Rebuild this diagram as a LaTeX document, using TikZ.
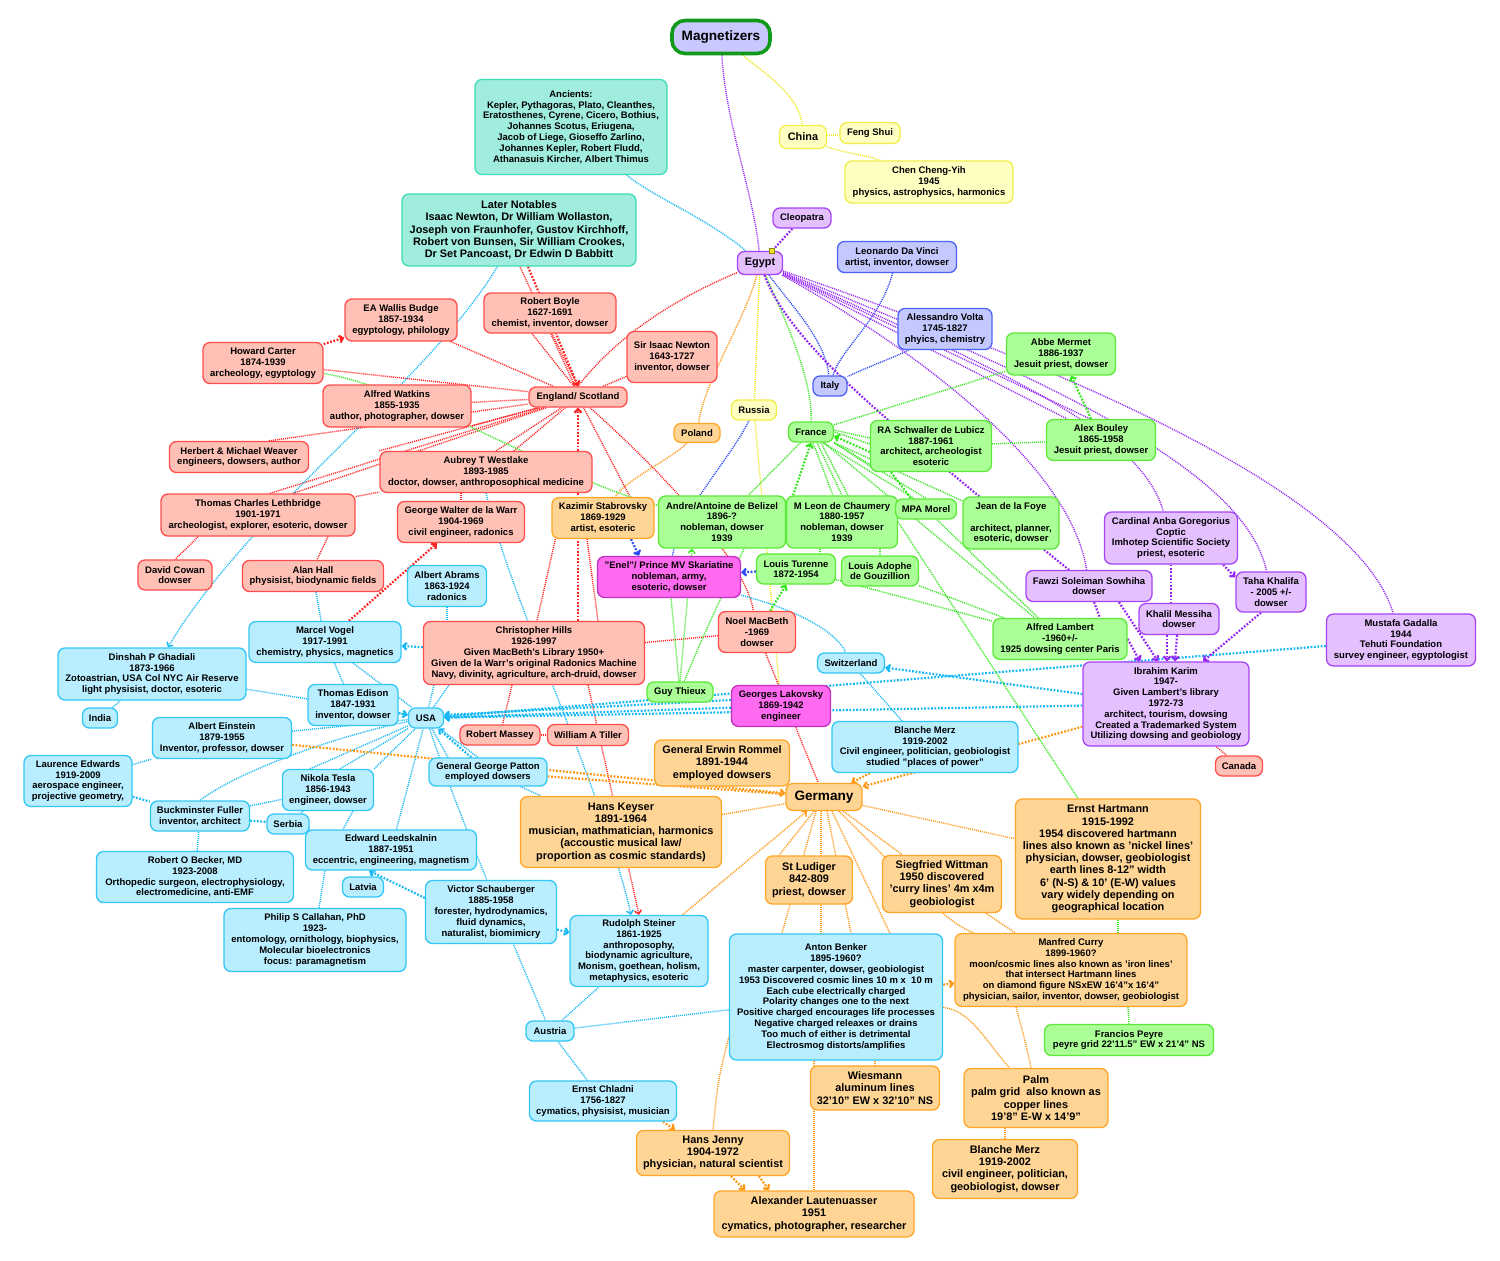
\documentclass[tikz,border=0pt]{standalone}
\usepackage{fontspec}
\setmainfont{Liberation Sans}
\usetikzlibrary{arrows.meta}
\pgfdeclarelayer{back}\pgfdeclarelayer{bg}
\pgfsetlayers{back,bg,main}
\definecolor{fR}{HTML}{FFC1B6}\definecolor{dR}{HTML}{FF4D4D}
\definecolor{fC}{HTML}{B8EEFF}\definecolor{dC}{HTML}{33C7F5}
\definecolor{fG}{HTML}{AAFF96}\definecolor{dG}{HTML}{5EE83A}
\definecolor{fO}{HTML}{FFD596}\definecolor{dO}{HTML}{FFA628}
\definecolor{fP}{HTML}{E5C0FF}\definecolor{dP}{HTML}{A645F5}
\definecolor{fM}{HTML}{FF6AF0}\definecolor{dM}{HTML}{C032C0}
\definecolor{fY}{HTML}{FFFFC2}\definecolor{dY}{HTML}{F2EE48}
\definecolor{fT}{HTML}{A0EDDF}\definecolor{dT}{HTML}{3DDDB5}
\definecolor{fB}{HTML}{C3C8FF}\definecolor{dB}{HTML}{4E63F5}
\definecolor{fMag}{HTML}{C9C8FF}\definecolor{dMag}{HTML}{119A19}
\definecolor{lR}{HTML}{FF2020}\definecolor{lC}{HTML}{14B8F5}
\definecolor{lG}{HTML}{33E81C}\definecolor{lO}{HTML}{FF9610}
\definecolor{lP}{HTML}{9426F5}\definecolor{lY}{HTML}{EDE81A}
\definecolor{lB}{HTML}{2A48F5}\definecolor{mkY}{HTML}{F2E22A}
\newcommand\szS{\fontsize{9.5}{10.8}\selectfont\bfseries}
\newcommand\szM{\fontsize{10.9}{12.2}\selectfont\bfseries}
\newcommand\szL{\fontsize{13.6}{15}\selectfont\bfseries}
\tikzset{
 bx/.style={rounded corners=7pt, line width=1.3pt, align=center, inner sep=1.5pt, font=\szS},
 sz/.style 2 args={minimum width=#1pt, minimum height=#2pt},
 tR/.style={bx, draw=dR, fill=fR},
 tC/.style={bx, draw=dC, fill=fC},
 tG/.style={bx, draw=dG, fill=fG},
 tO/.style={bx, draw=dO, fill=fO},
 tP/.style={bx, draw=dP, fill=fP},
 tM/.style={bx, draw=dM, fill=fM},
 tY/.style={bx, draw=dY, fill=fY},
 tT/.style={bx, draw=dT, fill=fT},
 tB/.style={bx, draw=dB, fill=fB},
 magS/.style={bx, draw=dMag, fill=fMag, line width=3.6pt, rounded corners=13pt, font=\szL},
 ln/.style={line width=1.4pt, dash pattern=on 1pt off 1pt},
 md/.style={line width=2.2pt, dash pattern=on 1.8pt off 1.6pt},
 ar/.style={-{Straight Barb[length=3.5pt,width=7pt]}},
}
\begin{document}
\begin{tikzpicture}[x=1pt,y=-1pt]
\begin{pgfonlayer}{back}
\fill[white] (0,0) rectangle (1500,1261);
\end{pgfonlayer}
\useasboundingbox (0,0) rectangle (1500,1261);
% ---------------- nodes
\node[magS,sz={98}{33}] (mag) at (721,37) {Magnetizers};
\node[tT,sz={192}{95}] (anc) at (571,127) {Ancients:\\Kepler, Pythagoras, Plato, Cleanthes,\\Eratosthenes, Cyrene, Cicero, Bothius,\\Johannes Scotus, Eriugena,\\Jacob of Liege, Gioseffo Zarlino,\\Johannes Kepler, Robert Fludd,\\Athanasuis Kircher, Albert Thimus};
\node[tT,sz={234}{72},font=\szM] (later) at (519,230) {Later Notables\\Isaac Newton, Dr William Wollaston,\\Joseph von Fraunhofer, Gustov Kirchhoff,\\Robert von Bunsen, Sir William Crookes,\\Dr Set Pancoast, Dr Edwin D Babbitt};
\node[tY,sz={47}{23},font=\szM] (china) at (803,137) {China};
\node[tY,sz={60}{21}] (feng) at (870,133) {Feng Shui};
\node[tY,sz={168}{42}] (chen) at (929,182) {Chen Cheng-Yih\\1945\\physics, astrophysics, harmonics};
\node[tP,sz={58}{20}] (cleo) at (802,218) {Cleopatra};
\node[tP,sz={45}{23},font=\szM] (egypt) at (760,263) {Egypt};
\node[fill=mkY, draw=olive, line width=0.6pt, minimum size=5pt, inner sep=0pt] (egmark) at ([xshift=-11pt]egypt.north east) {};
\node[tB,sz={119}{31}] (leo) at (897,257) {Leonardo Da Vinci\\artist, inventor, dowser};
\node[tB,sz={94}{41}] (volta) at (945,329) {Alessandro Volta\\1745-1827\\phyics, chemistry};
\node[tB,sz={34}{20}] (italy) at (830,386) {Italy};
\node[tG,sz={109}{42}] (mermet) at (1061,354) {Abbe Mermet\\1886-1937\\Jesuit priest, dowser};
\node[tR,sz={132}{40}] (boyle) at (550,313) {Robert Boyle\\1627-1691\\chemist, inventor, dowser};
\node[tR,sz={90}{51}] (newton) at (672,357) {Sir Isaac Newton\\1643-1727\\inventor, dowser};
\node[tR,sz={112}{42}] (budge) at (401,320) {EA Wallis Budge\\1857-1934\\egyptology, philology};
\node[tR,sz={120}{41}] (carter) at (263,363) {Howard Carter\\1874-1939\\archeology, egyptology};
\node[tR,sz={98}{20}] (engl) at (578,397) {England/ Scotland};
\node[tR,sz={148}{42}] (watkins) at (397,406) {Alfred Watkins\\1855-1935\\author, photographer, dowser};
\node[tR,sz={139}{31}] (weaver) at (239,457) {Herbert \& Michael Weaver\\engineers, dowsers, author};
\node[tR,sz={212}{41}] (westlake) at (486,472) {Aubrey T Westlake\\1893-1985\\doctor, dowser, anthroposophical medicine};
\node[tR,sz={194}{42}] (leth) at (258,515) {Thomas Charles Lethbridge\\1901-1971\\archeologist, explorer, esoteric, dowser};
\node[tR,sz={127}{41}] (delawarr) at (461,522) {George Walter de la Warr\\1904-1969\\civil engineer, radonics};
\node[tO,sz={102}{41}] (kaz) at (603,518) {Kazimir Stabrovsky\\1869-1929\\artist, esoteric};
\node[tO,sz={46}{19}] (poland) at (697,433) {Poland};
\node[tY,sz={45}{20}] (russia) at (754,410) {Russia};
\node[tG,sz={45}{20}] (france) at (811,432) {France};
\node[tG,sz={121}{51}] (schwaller) at (931,446) {RA Schwaller de Lubicz\\1887-1961\\architect, archeologist\\esoteric};
\node[tG,sz={109}{41}] (bouley) at (1101,440) {Alex Bouley\\1865-1958\\Jesuit priest, dowser};
\node[tG,sz={127}{52}] (andre) at (722,522) {Andre/Antoine de Belizel\\1896-?\\nobleman, dowser\\1939};
\node[tG,sz={111}{52}] (chaumery) at (842,522) {M Leon de Chaumery\\1880-1957\\nobleman, dowser\\1939};
\node[tG,sz={61}{20}] (morel) at (926,509) {MPA Morel};
\node[tG,sz={96}{52}] (foye) at (1011,523) {Jean de la Foye\\\mbox{}\\architect, planner,\\esoteric, dowser};
\node[tP,sz={133}{52}] (cardinal) at (1171,538) {Cardinal Anba Goregorius\\Coptic\\Imhotep Scientific Society\\priest, esoteric};
\node[tM,sz={143}{41}] (enel) at (669,577) {"Enel"/ Prince MV Skariatine\\nobleman, army,\\esoteric, dowser};
\node[tG,sz={79}{30}] (turenne) at (796,569) {Louis Turenne\\1872-1954};
\node[tG,sz={77}{30}] (adophe) at (880,571) {Louis Adophe\\de Gouzillion};
\node[tP,sz={126}{31}] (fawzi) at (1089,586) {Fawzi Soleiman Sowhiha\\dowser};
\node[tP,sz={80}{31}] (khalil) at (1179,619) {Khalil Messiha\\dowser};
\node[tP,sz={70}{40}] (taha) at (1271,592) {Taha Khalifa\\- 2005 +/-\\dowser};
\node[tP,sz={149}{52}] (mustafa) at (1401,640) {Mustafa Gadalla\\1944\\Tehuti Foundation\\survey engineer, egyptologist};
\node[tR,sz={74}{30}] (davidcowan) at (175,575) {David Cowan\\dowser};
\node[tR,sz={141}{31}] (alanhall) at (313,576) {Alan Hall\\physisist, biodynamic fields};
\node[tC,sz={79}{41}] (abrams) at (447,586) {Albert Abrams\\1863-1924\\radonics};
\node[tC,sz={152}{41}] (vogel) at (325,642) {Marcel Vogel\\1917-1991\\chemistry, physics, magnetics};
\node[tR,sz={221}{63}] (hills) at (534,653) {Christopher Hills\\1926-1997\\Given MacBeth's Library 1950+\\Given de la Warr's original Radonics Machine\\Navy, divinity, agriculture, arch-druid, dowser};
\node[tR,sz={77}{41}] (noel) at (757,632) {Noel MacBeth\\-1969\\dowser};
\node[tG,sz={134}{41}] (lambert) at (1060,639) {Alfred Lambert\\-1960+/-\\1925 dowsing center Paris};
\node[tC,sz={67}{20}] (switz) at (851,663) {Switzerland};
\node[tG,sz={66}{20}] (guy) at (680,692) {Guy Thieux};
\node[tM,sz={99}{41}] (lakovsky) at (781,706) {Georges Lakovsky\\1869-1942\\engineer};
\node[tP,sz={166}{84}] (ibrahim) at (1166,704) {Ibrahim Karim\\1947-\\Given Lambert's library\\1972-73\\architect, tourism, dowsing\\Created a Trademarked System\\Utilizing dowsing and geobiology};
\node[tR,sz={47}{20}] (canada) at (1239,766) {Canada};
\node[tC,sz={188}{52}] (dinshah) at (152,674) {Dinshah P Ghadiali\\1873-1966\\Zotoastrian, USA Col NYC Air Reserve\\light physisist, doctor, esoteric};
\node[tC,sz={35}{20}] (india) at (100,718) {India};
\node[tC,sz={90}{41}] (edison) at (353,705) {Thomas Edison\\1847-1931\\inventor, dowser};
\node[tC,sz={35}{20}] (usa) at (426,718) {USA};
\node[tC,sz={139}{41}] (einstein) at (222,738) {Albert Einstein\\1879-1955\\Inventor, professor, dowser};
\node[tR,sz={80}{20}] (massey) at (500,735) {Robert Massey};
\node[tR,sz={81}{21}] (tiller) at (588,735) {William A Tiller};
\node[tO,sz={135}{46},font=\szM] (rommel) at (722,763) {General Erwin Rommel\\1891-1944\\employed dowsers};
\node[tC,sz={186}{51}] (bmerzc) at (925,747) {Blanche Merz\\1919-2002\\Civil engineer, politician, geobiologist\\studied "places of power"};
\node[tC,sz={118}{28}] (patton) at (488,772) {General George Patton\\employed dowsers};
\node[tC,sz={108}{51}] (ledwards) at (78,781) {Laurence Edwards\\1919-2009\\aerospace engineer,\\projective geometry,};
\node[tC,sz={91}{41}] (tesla) at (328,790) {Nikola Tesla\\1856-1943\\engineer, dowser};
\node[tO,sz={76}{27},font=\szL] (germany) at (824,797) {Germany};
\node[tC,sz={99}{30}] (fuller) at (200,816) {Buckminster Fuller\\inventor, architect};
\node[tC,sz={42}{20}] (serbia) at (288,824) {Serbia};
\node[tO,sz={201}{71},font=\szM] (keyser) at (621,832) {Hans Keyser\\1891-1964\\musician, mathmatician, harmonics\\(accoustic musical law/\\proportion as cosmic standards)};
\node[tC,sz={171}{40}] (leeds) at (391,850) {Edward Leedskalnin\\1887-1951\\eccentric, engineering, magnetism};
\node[tC,sz={197}{51}] (becker) at (195,877) {Robert O Becker, MD\\1923-2008\\Orthopedic surgeon, electrophysiology,\\electromedicine, anti-EMF};
\node[tC,sz={41}{20}] (latvia) at (363,887) {Latvia};
\node[tO,sz={87}{48},font=\szM] (ludiger) at (809,880) {St Ludiger\\842-809\\priest, dowser};
\node[tO,sz={119}{57},font=\szM] (wittman) at (942,884) {Siegfried Wittman\\1950 discovered\\'curry lines' 4m x4m\\geobiologist};
\node[tO,sz={185}{120},font=\szM] (hartmann) at (1108,859) {Ernst Hartmann\\1915-1992\\1954 discovered hartmann\\lines also known as 'nickel lines'\\physician, dowser, geobiologist\\earth lines 8-12" width\\6' (N-S) \& 10' (E-W) values\\vary widely depending on\\geographical location};
\node[tC,sz={131}{63}] (victor) at (491,912) {Victor Schauberger\\1885-1958\\forester, hydrodynamics,\\fluid dynamics,\\naturalist, biomimicry};
\node[tC,sz={182}{63}] (callahan) at (315,940) {Philip S Callahan, PhD\\1923-\\entomology, ornithology, biophysics,\\Molecular bioelectronics\\focus: paramagnetism};
\node[tC,sz={138}{71}] (steiner) at (639,951) {Rudolph Steiner\\1861-1925\\anthroposophy,\\biodynamic agriculture,\\Monism, goethean, holism,\\metaphysics, esoteric};
\node[tC,sz={213}{126}] (benker) at (836,997) {Anton Benker\\1895-1960?\\master carpenter, dowser, geobiologist\\1953 Discovered cosmic lines 10 m x\ \ 10 m\\Each cube electrically charged\\Polarity changes one to the next\\Positive charged encourages life processes\\Negative charged releaxes or drains\\Too much of either is detrimental\\Electrosmog distorts/amplifies};
\node[tO,sz={232}{73}] (curry) at (1071,970) {Manfred Curry\\1899-1960?\\moon/cosmic lines also known as 'iron lines'\\that intersect Hartmann lines\\on diamond figure NSxEW 16'4"x 16'4"\\physician, sailor, inventor, dowser, geobiologist};
\node[tG,sz={169}{31}] (peyre) at (1129,1040) {Francios Peyre\\peyre grid 22'11.5" EW x 21'4" NS};
\node[tC,sz={48}{20}] (austria) at (550,1031) {Austria};
\node[tC,sz={147}{40}] (chladni) at (603,1101) {Ernst Chladni\\1756-1827\\cymatics, physisist, musician};
\node[tO,sz={129}{44},font=\szM] (wiesmann) at (875,1088) {Wiesmann\\aluminum lines\\32'10" EW x 32'10" NS};
\node[tO,sz={144}{59},font=\szM] (palm) at (1036,1098) {Palm\\palm grid\ \ also known as\\copper lines\\19'8" E-W x 14'9"};
\node[tO,sz={153}{45},font=\szM] (jenny) at (713,1153) {Hans Jenny\\1904-1972\\physician, natural scientist};
\node[tO,sz={200}{46},font=\szM] (lauten) at (814,1214) {Alexander Lautenuasser\\1951\\cymatics, photographer, researcher};
\node[tO,sz={145}{59},font=\szM] (bmerzo) at (1005,1169) {Blanche Merz\\1919-2002\\civil engineer, politician,\\geobiologist, dowser};
% ---------------- connectors
\begin{pgfonlayer}{bg}
% top
\draw[ln,lP] (mag) .. controls (725,120) and (755,200) .. (egypt);
\draw[ln,lY] (mag) .. controls (760,70) and (800,95) .. (china);
\draw[ln,lY] (china) -- (feng);
\draw[ln,lY] (china) .. controls (840,152) and (870,156) .. (chen);
\draw[md,lP] (cleo) -- (egmark);
\draw[ln,lC] (anc) .. controls (650,195) and (710,220) .. (egypt);
% Egypt
\draw[ln,lR] (egypt) .. controls (660,305) and (610,345) .. (engl.north);
\draw[ln,lO] (egypt) .. controls (745,320) and (705,380) .. (poland);
\draw[ln,lO] (poland) .. controls (670,460) and (625,480) .. (kaz);
\draw[ln,lY] (egypt) -- (russia);
\draw[ln,lY] (russia) -- (lakovsky);
\draw[ln,lB] (russia) .. controls (730,460) and (680,510) .. (enel);
\draw[ln,lG] (egypt) .. controls (790,330) and (812,380) .. (france);
\draw[ln,lB] (egypt) .. controls (795,310) and (825,340) .. (italy);
\draw[ln,lB] (leo) .. controls (880,320) and (840,350) .. (italy);
\draw[ln,lB] (volta) .. controls (900,355) and (860,370) .. (italy);
\draw[md,lP] (egypt) .. controls (790,345) and (900,430) .. (foye);
\draw[ln,lP] (egypt) .. controls (900,340) and (1070,460) .. (fawzi);
\draw[ln,lP] (egypt) -- ([xshift=-34pt]bouley.north);
\draw[ln,lP] (egypt) -- ([xshift=-11pt]bouley.north);
\draw[ln,lP] (egypt) .. controls (1000,370) and (1140,430) .. (cardinal);
\draw[ln,lP] (egypt) .. controls (1050,380) and (1245,470) .. (taha);
\draw[ln,lP] (egypt) .. controls (1100,380) and (1360,500) .. (mustafa);
% England / Scotland
\draw[ln,lR] (newton) -- (engl);
\draw[ln,lR] (budge) -- (engl);
\draw[ln,lR] (carter) -- (engl);
\draw[md,lR,ar] (carter) -- (budge);
\draw[ln,lR] (watkins) -- (engl);
\draw[ln,lR] (watkins.-15) -- (engl);
\draw[ln,lR] ([xshift=30pt]weaver.north) -- (engl);
\draw[ln,lR] (westlake.north west) -- (engl);
\draw[ln,lR] ([xshift=10pt]westlake.north) -- (engl);
\draw[ln,lR] ([xshift=28pt]westlake.north) -- (engl);
\draw[ln,lR] ([xshift=12pt]leth.north) -- (engl);
\draw[ln,lR] ([xshift=35pt]leth.north) -- (engl);
\draw[ln,lR] (leth) -- (westlake);
\draw[ln,lR] ([xshift=-18pt]boyle.south) -- ([xshift=-4pt]engl.north);
\draw[ln,lR] ([xshift=2pt]boyle.south) -- (engl.north);
\draw[ln,lR] ([xshift=1pt]later.south) -- ([xshift=-3pt]engl.north);
\draw[md,lR,ar] ([xshift=9pt]later.south) -- (engl.north);
\draw[md,lR,ar] (hills.north -| engl) -- (engl.south);
\draw[ln,lR] (engl) -- ([xshift=27pt]kaz.north);
\draw[ln,lR] (engl) .. controls (660,470) and (745,560) .. (noel);
\draw[ln,lR] ([xshift=4pt]kaz.south west) -- ([xshift=3pt]hills.north);
\draw[ln,lR] ([xshift=-16pt]kaz.south) -- ([xshift=64pt]hills.north);
\draw[ln,lR] (hills) -- (noel);
\draw[ln,lR] (noel) -- (germany);
\draw[ln,lR] ([xshift=-22pt]hills.south) -- (massey);
\draw[ln,lR] (massey) -- (tiller);
\draw[ln,lR,ar] (hills.south -| tiller) -- (steiner.north);
\draw[ln,lR] (westlake.south -| delawarr) -- (delawarr.north);
\draw[md,lR,ar] (vogel) -- (delawarr);
\draw[ln,lR] ([xshift=70pt]leth.south) -- ([xshift=4pt]alanhall.north);
\draw[ln,lR] ([xshift=-60pt]leth.south) .. controls (190,545) .. (davidcowan.north);
\draw[ln,lR] (ibrahim) -- (canada);
\draw[ln,lG] (carter) .. controls (420,390) and (560,480) .. (andre);
% cyan
\draw[ln,lC,ar] (later) .. controls (430,380) and (250,510) .. (dinshah);
\draw[ln,lC] (abrams.south) -- (hills.north -| abrams.south);
\draw[ln,lC,ar] (westlake.south) .. controls (510,600) and (600,780) .. ([xshift=-8pt]steiner.north);
\draw[ln,lC] (alanhall) -- (vogel);
\draw[md,lC,ar] (hills) -- (vogel);
\draw[ln,lC] (vogel) -- (usa);
\draw[ln,lC] (vogel) -- (edison);
\draw[ln,lC] (dinshah) -- (usa);
\draw[ln,lC] (india) -- (dinshah);
\draw[md,lC,ar] (edison) -- (usa);
\draw[ln,lC] ([xshift=-100pt]hills.south) -- (usa);
\draw[ln,lC] ([xshift=-85pt]hills.south) -- (usa);
\draw[ln,lC] (einstein) -- (usa);
\draw[ln,lC] (ledwards) -- (einstein);
\draw[ln,lC] (fuller.north) .. controls (240,770) and (340,735) .. (usa);
\draw[md,lC] (ledwards) -- (fuller);
\draw[ln,lC] ([xshift=-18pt]tesla.north) -- (usa);
\draw[ln,lC] ([xshift=12pt]tesla.north) -- (usa);
\draw[ln,lC] (tesla.north east) -- (usa);
\draw[ln,lC] (fuller) -- (tesla);
\draw[md,lC] (fuller) -- (serbia);
\draw[md,lC] (serbia) -- (leeds);
\draw[ln,lC] (tesla) -- (serbia);
\draw[ln,lC] ([xshift=25pt]tesla.south) -- ([xshift=-48pt]leeds.north);
\draw[ln,lC] (leeds) -- (usa);
\draw[ln,lC] (latvia) -- (leeds);
\draw[md,lC,ar] ([yshift=14pt]victor.west) -- ([xshift=-22pt]leeds.south);
\draw[ln,lC] (becker) -- (fuller);
\draw[ln,lC] ([xshift=4pt]callahan.north) -- ([xshift=-66pt]leeds.south);
\draw[md,lC,ar] (patton) -- (usa);
\draw[ln,lC] ([xshift=-40pt]patton.north) -- (usa);
\draw[ln,lC] ([xshift=-10pt]patton.north) -- (usa);
\draw[ln,lC] (usa) .. controls (460,820) and (520,960) .. (austria);
\draw[md,lC,ar] (victor) -- (steiner);
\draw[ln,lC] (patton) -- (keyser);
\draw[md,lC,ar] (lakovsky) -- (usa);
\draw[md,lC,ar] ([yshift=6pt]lakovsky.west) -- ([yshift=3pt]usa.east);
\draw[md,lC,ar] (ibrahim) -- (usa);
\draw[md,lC,ar] (mustafa) -- (usa);
\draw[md,lC,ar] ([yshift=10pt]ibrahim.west) -- (switz);
\draw[ln,lC] (enel) .. controls (760,600) and (830,620) .. (switz);
\draw[ln,lC] (switz) -- (bmerzc);
\draw[ln,lC] (austria) -- (chladni);
\draw[ln,lC] (austria) -- (steiner);
\draw[ln,lC] (austria) -- (benker);
% orange
\draw[md,lO,ar] ([xshift=-55pt]bmerzc.south) -- (germany);
\draw[md,lO,ar] (ibrahim) -- (germany);
\draw[md,lO,ar] (einstein) -- (germany);
\draw[md,lO] (patton) -- (germany);
\draw[ln,lO] (keyser) -- (germany);
\draw[ln,lO,ar] (steiner) -- (germany);
\draw[ln,lO] ([xshift=-10pt]germany.south) -- ([xshift=-30pt]ludiger.north);
\draw[ln,lO] ([xshift=-8pt]germany.south) -- ([xshift=-54pt]benker.north);
\draw[ln,lO] ([xshift=-3pt]germany.south) -- ([xshift=-15pt]benker.north);
\draw[ln,lO] ([xshift=3pt]germany.south) -- ([xshift=15pt]benker.north);
\draw[ln,lO] ([xshift=8pt]germany.south) -- ([xshift=54pt]benker.north);
\draw[ln,lO] (germany) -- (wittman);
\draw[ln,lO] (germany) -- (hartmann);
\draw[ln,lO] (germany) .. controls (900,870) and (940,920) .. (curry);
\draw[ln,lO] (wittman) -- (curry);
\draw[md,lO,ar] (benker) -- (curry);
\draw[ln,lO] (benker) .. controls (970,1010) and (985,1040) .. (palm);
\draw[ln,lO] ([xshift=-55pt]curry.south) .. controls (1025,1040) .. ([xshift=-5pt]palm.north);
\draw[ln,lO] ([xshift=-31pt]palm.south) -- (bmerzo.north);
\draw[ln,lO] (benker.south -| wiesmann) -- (wiesmann.north);
\draw[ln,lO] ([xshift=-22pt]benker.south) -- (lauten.north);
\draw[ln,lO] ([yshift=-40pt]benker.west) .. controls (718,1080) .. (jenny.north);
\draw[md,lO,ar] ([xshift=60pt]chladni.south) -- ([xshift=-38pt]jenny.north);
\draw[md,lO,ar] ([xshift=18pt]jenny.south) -- ([xshift=-69pt]lauten.north);
\draw[md,lO,ar] ([xshift=46pt]jenny.south) -- ([xshift=-45pt]lauten.north);
% green
\draw[ln,lG] (france) -- (mermet);
\draw[ln,lG] ([yshift=8pt]schwaller.west) -- ([yshift=2pt]france.east);
\draw[ln,lG] ([yshift=2pt]schwaller.west) -- (france.east);
\draw[md,lG,ar] ([yshift=-6pt]schwaller.west) -- ([yshift=-4pt]france.east);
\draw[ln,lG] ([yshift=-20pt]schwaller.west) -- (france.south east);
\draw[ln,lG] (schwaller) -- (bouley);
\draw[md,lG,ar] (bouley) -- (mermet);
\draw[ln,lG] (france) -- (andre);
\draw[ln,lG] ([xshift=2pt]france.south) -- ([xshift=-9pt]chaumery.north);
\draw[ln,lG] ([xshift=6pt]france.south) -- (chaumery.north);
\draw[ln,lG] ([xshift=10pt]france.south) -- ([xshift=6pt]chaumery.north);
\draw[md,lG,ar] ([xshift=-49pt]chaumery.north) -- (france.south);
\draw[ln,lG] ([xshift=12pt]france.south) -- ([xshift=-12pt]morel.north);
\draw[ln,lG] (france.south east) -- (morel.north);
\draw[ln,lG] (france) -- (foye);
\draw[ln,lG] (france) -- (lambert);
\draw[ln,lG] (turenne) -- (lambert);
\draw[ln,lG] (adophe) -- (lambert);
\draw[ln,lG] (morel) -- (lambert);
\draw[ln,lG] (chaumery.east) -- ([xshift=-30pt]hartmann.north);
\draw[ln,lG] ([xshift=10pt]hartmann.south) -- ([xshift=47pt]curry.north);
\draw[ln,lG] ([xshift=57pt]curry.south) -- (peyre.north);
\draw[ln,lG] ([xshift=-22pt]chaumery.south) -- ([xshift=24pt]turenne.north);
\draw[ln,lG] ([xshift=38pt]chaumery.south) -- (adophe.north);
\draw[ln,lG,ar] (guy.north) -- ([xshift=-30pt]andre.south);
\draw[ln,lG] (guy) .. controls (705,630) and (725,590) .. ([xshift=22pt]andre.south);
\draw[ln,lG] (guy) -- (enel);
\draw[md,lG,ar] (noel) -- (turenne);
\draw[md,lG] ([xshift=-40pt]schwaller.south) -- ([xshift=-15pt]morel.north);
% blue
\draw[md,lB,ar] ([xshift=28pt]kaz.south) -- ([xshift=-30pt]enel.north);
\draw[md,lB,ar] (turenne) -- (enel);
% purple
\draw[md,lP] (foye) -- (fawzi);
\draw[md,lP] ([xshift=5pt]fawzi.south) -- ([xshift=40pt]lambert.north);
\draw[md,lP,ar] ([xshift=30pt]fawzi.south) -- ([xshift=-8pt]ibrahim.north);
\draw[md,lP,ar] (lambert.east) -- ([xshift=-26pt]ibrahim.north);
\draw[md,lP] (cardinal.south) -- (khalil.north -| cardinal.south);
\draw[md,lP,ar] ([xshift=-12pt]khalil.south) -- ([xshift=1pt]ibrahim.north);
\draw[md,lP,ar] ([xshift=-2pt]khalil.south) -- ([xshift=9pt]ibrahim.north);
\draw[md,lP,ar] ([xshift=-15pt]cardinal.south east) -- ([yshift=-6pt]taha.north west);
\draw[md,lP,ar] ([xshift=-10pt]taha.south) -- ([xshift=37pt]ibrahim.north);
\end{pgfonlayer}
\end{tikzpicture}
\end{document}
